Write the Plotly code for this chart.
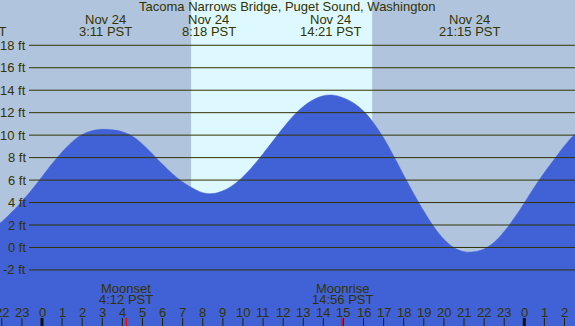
import plotly.graph_objects as go

# ---- data ----
title = "Tacoma Narrows Bridge, Puget Sound, Washington"
tide_hours = [-2.5, -2.0, -1.5, -1.0, -0.5, 0.0, 0.5, 1.0, 1.5, 2.0, 2.5, 3.0,
              3.5, 4.0, 4.5, 5.0, 5.5, 6.0, 6.5, 7.0, 7.5, 8.0,
              8.5, 9.0, 9.5, 10.0, 10.5, 11.0, 11.5, 12.0, 12.5, 13.0, 13.5, 14.0,
              14.5, 15.0, 15.5, 16.0, 16.5, 17.0, 17.5, 18.0, 18.5, 19.0, 19.5, 20.0, 20.5, 21.0,
              21.5, 22.0, 22.5, 23.0, 23.5, 24.0, 24.5, 25.0, 25.5, 26.0, 26.5, 27.0]
tide_feet = [1.6, 2.3, 3.15, 4.1, 5.15, 6.3, 7.45, 8.5, 9.4, 10.05, 10.4, 10.52,
             10.47, 10.3, 9.9, 9.2, 8.32, 7.4, 6.55, 5.83, 5.28, 4.88,
             4.8, 5.05, 5.55, 6.3, 7.25, 8.35, 9.5, 10.65, 11.7, 12.55, 13.15, 13.5,
             13.56, 13.31, 12.86, 12.14, 11.09, 9.74, 8.14, 6.44, 4.79, 3.24, 1.84, 0.74, -0.01, -0.37,
             -0.38, -0.13, 0.47, 1.42, 2.62, 3.97, 5.37, 6.67, 7.87, 9.05, 10.05, 10.8]

event_hours = [-3.30, 3.18, 8.30, 14.35, 21.25]
event_dates = ["Nov 23", "Nov 24", "Nov 24", "Nov 24", "Nov 24"]
event_times = ["20:42 PST", "3:11 PST", "8:18 PST", "14:21 PST", "21:15 PST"]

moon_hours = [4.20, 14.93]
moon_names = ["Moonset", "Moonrise"]
moon_times = ["4:12 PST", "14:56 PST"]

sunrise_hour = 7.42
sunset_hour = 16.43

grid_feet = [18, 16, 14, 12, 10, 8, 6, 4, 2, 0, -2]
hour_ticks = list(range(-2, 27))
midnight_hours = [0, 24]

# ---- layout constants ----
W, H = 575, 326
XMIN, XMAX = -2.09, 26.523
YMIN, YMAX = -6.99, 22.03
NIGHT = "#b0c4de"
DAY = "#ddf8ff"
WATER = "#4161d7"
TXT = "#333300"
FONT = "Liberation Sans, Arial, sans-serif"
FS = 13


def px_to_paper_y(py):
    return 1 - py / H


def hour_to_paper_x(h):
    return (h - XMIN) / (XMAX - XMIN)


fig = go.Figure()
fig.add_trace(go.Scatter(x=[XMIN - 1, XMAX + 1], y=[YMIN - 3, YMIN - 3], mode="lines",
                         line=dict(width=0, color=WATER), hoverinfo="skip", showlegend=False))
fig.add_trace(go.Scatter(x=tide_hours, y=tide_feet, mode="lines", line_shape="spline",
                         line=dict(width=0.5, color=WATER, smoothing=1.1), fill="tonexty",
                         fillcolor=WATER, hoverinfo="skip", showlegend=False))

shapes = [dict(type="rect", xref="x", yref="paper", x0=sunrise_hour, x1=sunset_hour, y0=0, y1=1,
               fillcolor=DAY, line=dict(width=0), layer="below")]
for f in grid_feet:
    shapes.append(dict(type="line", xref="paper", yref="y", x0=29 / W, x1=1, y0=f, y1=f,
                       line=dict(color=TXT, width=1), layer="above"))
for h in hour_ticks:
    shapes.append(dict(type="line", xref="x", yref="paper", x0=h, x1=h, y0=0, y1=px_to_paper_y(318),
                       line=dict(color="#222200", width=1), layer="above"))
for h in midnight_hours:
    shapes.append(dict(type="line", xref="x", yref="paper", x0=h, x1=h, y0=0, y1=px_to_paper_y(318),
                       line=dict(color="#111111", width=3), layer="above"))
for h in moon_hours:
    shapes.append(dict(type="line", xref="x", yref="paper", x0=h, x1=h, y0=0, y1=px_to_paper_y(318),
                       line=dict(color="#ff0000", width=1.5), layer="above"))

ann = []
fnt = dict(family=FONT, size=FS, color=TXT)
ann.append(dict(text=title, xref="paper", yref="paper", x=0.5, y=px_to_paper_y(7),
                showarrow=False, font=fnt, xanchor="center", yanchor="middle"))
for h, d, t in zip(event_hours, event_dates, event_times):
    xp = hour_to_paper_x(h)
    ann.append(dict(text=d, xref="paper", yref="paper", x=xp, y=px_to_paper_y(19.5),
                    showarrow=False, font=fnt, xanchor="center", yanchor="middle"))
    ann.append(dict(text=t, xref="paper", yref="paper", x=xp, y=px_to_paper_y(31.5),
                    showarrow=False, font=fnt, xanchor="center", yanchor="middle"))
for f in grid_feet:
    ann.append(dict(text=f"{f} ft", xref="paper", yref="y", x=27.5 / W, y=f,
                    showarrow=False, font=fnt, xanchor="right", yanchor="middle"))
for h, n, t in zip(moon_hours, moon_names, moon_times):
    xp = hour_to_paper_x(h)
    ann.append(dict(text=n, xref="paper", yref="paper", x=xp, y=px_to_paper_y(288),
                    showarrow=False, font=fnt, xanchor="center", yanchor="middle"))
    ann.append(dict(text=t, xref="paper", yref="paper", x=xp, y=px_to_paper_y(299.5),
                    showarrow=False, font=fnt, xanchor="center", yanchor="middle"))
for h in hour_ticks:
    ann.append(dict(text=str(h % 24), xref="paper", yref="paper", x=hour_to_paper_x(h),
                    y=px_to_paper_y(312), showarrow=False, font=fnt,
                    xanchor="center", yanchor="middle"))

fig.update_layout(
    width=W, height=H, margin=dict(l=0, r=0, t=0, b=0),
    paper_bgcolor=NIGHT, plot_bgcolor=NIGHT,
    xaxis=dict(range=[XMIN, XMAX], visible=False, fixedrange=True),
    yaxis=dict(range=[YMIN, YMAX], visible=False, fixedrange=True),
    shapes=shapes, annotations=ann, showlegend=False,
)
fig.write_html("out.html", config={"displayModeBar": False})

# remove the default page margin so the chart sits at the window's corner
with open("out.html", "r", encoding="utf-8") as fh:
    page = fh.read()
page = page.replace("<head>", "<head><style>html,body{margin:0;padding:0;overflow:hidden;}</style>", 1)
with open("out.html", "w", encoding="utf-8") as fh:
    fh.write(page)
